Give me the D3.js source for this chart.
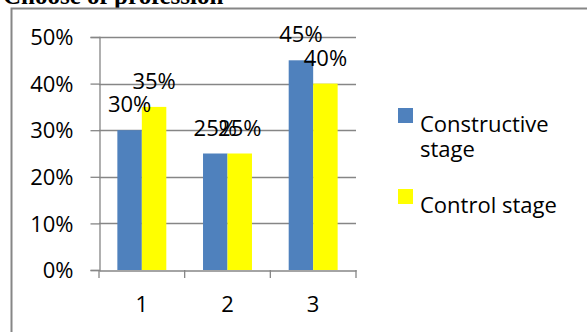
<!DOCTYPE html>
<html>
<head>
<meta charset="utf-8">
<script src="https://cdn.jsdelivr.net/npm/d3@7"></script>
<style>
  body { margin: 0; background: #fff; }
  svg { display: block; }
  text { font-family: 'Open Sans', sans-serif; fill: #000; }
</style>
</head>
<body>
<div id="chart"></div>
<script>
var categories = ['1', '2', '3']
var seriesNames = ['Constructive stage', 'Control stage']
var constructive = [0.30, 0.25, 0.45]
var control = [0.35, 0.25, 0.40]
var yTicks = [0, 0.1, 0.2, 0.3, 0.4, 0.5]
var colors = ['#4F81BD', '#FFFF00']

var width = 587
var height = 332

var margin = { top: 37, left: 99, bottom: 62, right: 231 }
var fontSize = 22

var svg = d3.select('#chart').append('svg')
  .attr('width', width)
  .attr('height', height)

// title, cut off by the top of the picture
svg.append('text')
  .attr('x', 3)
  .attr('y', 4)
  .style('font-family', "'Liberation Serif', serif")
  .style('font-weight', 'bold')
  .style('font-size', '25px')
  .text('Choose of profession')

// outer frame (runs off the right and bottom edges)
svg.append('path')
  .attr('d', 'M11.5,' + (height + 5) + 'V8.5H' + (width + 5))
  .attr('fill', 'none')
  .attr('stroke', '#868686')
  .attr('stroke-width', 2)

var x0 = d3.scaleBand()
  .domain(categories)
  .range([margin.left, width - margin.right])

// gap width 150%: bar = band / 3.5
var x1 = d3.scaleBand()
  .domain(seriesNames)
  .range([0, x0.bandwidth()])
  .paddingInner(0)
  .paddingOuter(0.75)

var y = d3.scaleLinear()
  .domain([0, 0.5])
  .range([height - margin.bottom, margin.top])

// gridlines
svg.append('g')
  .selectAll('line')
  .data(yTicks.slice(1))
  .join('line')
  .attr('x1', margin.left)
  .attr('x2', width - margin.right)
  .attr('y1', function (d) { return Math.round(y(d)) + 0.5 })
  .attr('y2', function (d) { return Math.round(y(d)) + 0.5 })
  .attr('stroke', '#868686')
  .attr('stroke-width', 1.3)

var rows = categories.map(function (c, i) {
  return [
    { cat: c, name: seriesNames[0], value: constructive[i], color: colors[0] },
    { cat: c, name: seriesNames[1], value: control[i], color: colors[1] }
  ]
})

var bars = svg.append('g')
  .selectAll('g')
  .data(rows)
  .join('g')

bars.selectAll('rect')
  .data(function (d) { return d })
  .join('rect')
  .attr('x', function (d) { return x0(d.cat) + x1(d.name) })
  .attr('y', function (d) { return y(d.value) })
  .attr('width', x1.bandwidth())
  .attr('height', function (d) { return y(0) - y(d.value) })
  .attr('fill', function (d) { return d.color })

// y axis
var yAxis = d3.axisLeft(y)
  .tickValues(yTicks)
  .tickFormat(d3.format('.0%'))
  .tickSize(9)
  .tickPadding(17)

svg.append('g')
  .attr('transform', 'translate(' + (margin.left + 0.5) + ',0)')
  .call(yAxis)
  .call(function (g) {
    g.selectAll('line, path').attr('stroke', '#868686').attr('stroke-width', 1.3)
    g.selectAll('text').style('font-size', fontSize + 'px').attr('dy', '0.35em')
  })

// x axis
var xAxis = d3.axisBottom(x0)
  .tickSize(0)
  .tickPadding(26)

svg.append('g')
  .attr('transform', 'translate(0,' + (y(0) + 0.5) + ')')
  .call(xAxis)
  .call(function (g) {
    g.selectAll('path').attr('stroke', '#868686').attr('stroke-width', 1.3)
    g.selectAll('text').style('font-size', fontSize + 'px')
  })

// x tick marks between categories
svg.append('g')
  .selectAll('line')
  .data(categories.concat(['end']))
  .join('line')
  .attr('x1', function (d, i) { return i < categories.length ? x0(d) : width - margin.right })
  .attr('x2', function (d, i) { return i < categories.length ? x0(d) : width - margin.right })
  .attr('y1', y(0))
  .attr('y2', y(0) + 8)
  .attr('stroke', '#868686')
  .attr('stroke-width', 1.3)

// data labels
bars.selectAll('text')
  .data(function (d) { return d })
  .join('text')
  .attr('x', function (d) { return x0(d.cat) + x1(d.name) + x1.bandwidth() / 2 })
  .attr('y', function (d) { return y(d.value) - 18 })
  .attr('text-anchor', 'middle')
  .style('font-size', fontSize + 'px')
  .text(function (d) { return d3.format('.0%')(d.value) })

// legend
var legend = svg.append('g')
  .attr('transform', 'translate(398,0)')

var legendItems = [
  { lines: ['Constructive', 'stage'], color: colors[0], y: 108 },
  { lines: ['Control stage'], color: colors[1], y: 189 }
]

var li = legend.selectAll('g')
  .data(legendItems)
  .join('g')
  .attr('transform', function (d) { return 'translate(0,' + d.y + ')' })

li.append('rect')
  .attr('width', 15)
  .attr('height', 15)
  .attr('fill', function (d) { return d.color })

li.append('text')
  .attr('x', 22)
  .attr('y', 0)
  .style('font-size', fontSize + 'px')
  .selectAll('tspan')
  .data(function (d) { return d.lines })
  .join('tspan')
  .attr('x', 22)
  .attr('dy', function (d, i) { return i === 0 ? 24 : 25 })
  .text(function (d) { return d })
</script>
</body>
</html>
